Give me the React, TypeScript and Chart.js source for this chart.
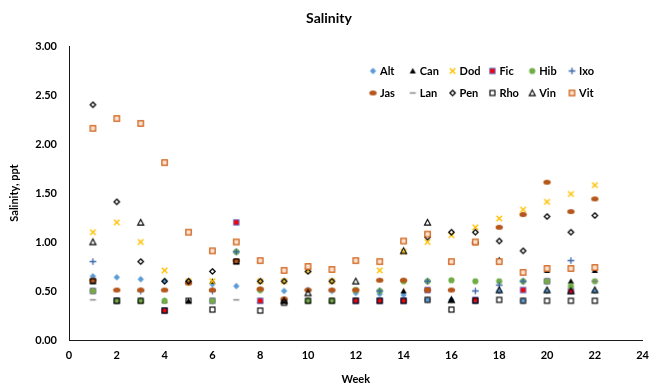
import React, { useEffect, useRef } from 'react';
import { Chart, registerables } from 'chart.js';

Chart.register(...registerables);

const weeks = [1, 2, 3, 4, 5, 6, 7, 8, 9, 10, 11, 12, 13, 14, 15, 16, 17, 18, 19, 20, 21, 22];
const seriesNames = ['Alt', 'Can', 'Dod', 'Fic', 'Hib', 'Ixo', 'Jas', 'Lan', 'Pen', 'Rho', 'Vin', 'Vit'];

const alt = [0.65, 0.64, 0.62, 0.60, 0.60, 0.57, 0.55, 0.51, 0.50, 0.51, 0.50, 0.48, 0.47, 0.46, 0.41, 0.41, 0.40, 0.50, 0.40, 0.50, 0.50, 0.50];
const can = [0.60, 0.40, 0.40, 0.40, 0.40, 0.60, 0.80, 0.40, 0.40, 0.40, 0.40, null, null, 0.50, null, 0.41, 0.40, 0.82, null, 0.71, 0.60, 0.71];
const dod = [1.10, 1.20, 1.00, 0.71, 0.60, 0.60, null, 0.60, 0.60, 0.71, 0.60, null, 0.71, 0.90, 1.00, 1.07, 1.15, 1.24, 1.33, 1.41, 1.49, 1.58];
const fic = [0.50, 0.40, null, 0.30, null, 0.40, 1.20, 0.40, null, null, null, 0.40, 0.40, 0.40, 0.51, null, 0.41, null, 0.51, 0.60, 0.50, null];
const hib = [0.50, 0.40, 0.40, 0.40, null, 0.40, 0.90, 0.51, null, 0.40, 0.40, 0.51, 0.50, 0.60, 0.60, 0.61, 0.60, 0.60, 0.60, 0.60, 0.55, 0.60];
const ixo = [0.80, null, 0.50, null, null, 0.50, 0.90, null, null, null, null, null, 0.50, null, 0.60, null, 0.50, 0.56, 0.60, null, 0.81, null];
const jas = [0.61, 0.51, 0.51, 0.51, 0.58, 0.51, 0.81, 0.52, 0.42, 0.51, 0.51, 0.51, 0.61, 0.61, 0.51, 0.51, 0.99, 1.15, 1.28, 1.61, 1.31, 1.44];
const lan = [0.41, null, null, null, null, null, 0.41, null, null, null, null, null, null, null, null, null, null, null, null, null, null, 0.60];
const pen = [2.40, 1.41, 0.80, 0.60, 0.60, 0.70, null, 0.60, 0.60, 0.70, 0.60, null, null, null, 1.05, 1.10, 1.10, 1.01, 0.91, 1.26, 1.10, 1.27];
const rho = [0.60, 0.40, 0.40, 0.30, 0.40, 0.31, 0.80, 0.30, 0.38, 0.40, 0.40, 0.40, 0.40, 0.40, 0.41, 0.31, 0.40, 0.41, 0.40, 0.40, 0.40, 0.40];
const vin = [1.00, null, 1.20, null, null, null, null, null, 0.40, 0.48, null, 0.60, null, 0.91, 1.20, 0.41, null, 0.51, null, 0.51, 0.50, 0.51];
const vit = [2.16, 2.26, 2.21, 1.81, 1.10, 0.91, 1.00, 0.81, 0.71, 0.75, 0.72, 0.81, 0.80, 1.01, 1.08, 0.80, 1.00, 0.80, 0.69, 0.73, 0.73, 0.74];

const seriesValues = [alt, can, dod, fic, hib, ixo, jas, lan, pen, rho, vin, vit];

const yTicks = [0, 0.5, 1, 1.5, 2, 2.5, 3];
const xTicks = [0, 2, 4, 6, 8, 10, 12, 14, 16, 18, 20, 22, 24];

const FONT = 'Lato, "Open Sans", sans-serif';

function makeMarker(name: string): HTMLCanvasElement {
  const c = document.createElement('canvas');
  c.width = 11;
  c.height = 11;
  const ctx = c.getContext('2d') as CanvasRenderingContext2D;
  ctx.translate(5.5, 5.5);
  ctx.lineJoin = 'miter';
  switch (name) {
    case 'Alt':
      ctx.beginPath();
      ctx.moveTo(0, -3.2); ctx.lineTo(3.2, 0); ctx.lineTo(0, 3.2); ctx.lineTo(-3.2, 0); ctx.closePath();
      ctx.fillStyle = '#5B9BD5';
      ctx.fill();
      break;
    case 'Can':
      ctx.beginPath();
      ctx.moveTo(0, -3); ctx.lineTo(3.1, 2.6); ctx.lineTo(-3.1, 2.6); ctx.closePath();
      ctx.fillStyle = '#000';
      ctx.fill();
      break;
    case 'Dod':
      ctx.beginPath();
      ctx.moveTo(-2.8, -2.8); ctx.lineTo(2.8, 2.8);
      ctx.moveTo(2.8, -2.8); ctx.lineTo(-2.8, 2.8);
      ctx.strokeStyle = '#FFC000';
      ctx.lineWidth = 1.4;
      ctx.stroke();
      break;
    case 'Fic':
      ctx.fillStyle = '#FF0000';
      ctx.fillRect(-2.6, -2.6, 5.2, 5.2);
      ctx.strokeStyle = '#5060C0';
      ctx.lineWidth = 1;
      ctx.strokeRect(-2.6, -2.6, 5.2, 5.2);
      break;
    case 'Hib':
      ctx.beginPath();
      ctx.arc(0, 0, 3.1, 0, Math.PI * 2);
      ctx.fillStyle = '#70AD47';
      ctx.fill();
      break;
    case 'Ixo':
      ctx.beginPath();
      ctx.moveTo(-3.3, 0); ctx.lineTo(3.3, 0);
      ctx.moveTo(0, -3.3); ctx.lineTo(0, 3.3);
      ctx.strokeStyle = '#3A66A8';
      ctx.lineWidth = 1.3;
      ctx.stroke();
      break;
    case 'Jas':
      ctx.beginPath();
      ctx.ellipse(0, 0, 3.7, 2.5, 0, 0, Math.PI * 2);
      ctx.fillStyle = '#B5561A';
      ctx.fill();
      break;
    case 'Lan':
      ctx.fillStyle = '#808080';
      ctx.fillRect(-3, -0.7, 6, 1.4);
      break;
    case 'Pen':
      ctx.beginPath();
      ctx.moveTo(0, -2.7); ctx.lineTo(2.7, 0); ctx.lineTo(0, 2.7); ctx.lineTo(-2.7, 0); ctx.closePath();
      ctx.strokeStyle = '#000';
      ctx.lineWidth = 1.3;
      ctx.stroke();
      break;
    case 'Rho':
      ctx.strokeStyle = '#000';
      ctx.lineWidth = 1.15;
      ctx.strokeRect(-2.5, -2.5, 5, 5);
      break;
    case 'Vin':
      ctx.beginPath();
      ctx.moveTo(0, -3); ctx.lineTo(3, 2.6); ctx.lineTo(-3, 2.6); ctx.closePath();
      ctx.strokeStyle = '#000';
      ctx.lineWidth = 1.15;
      ctx.stroke();
      break;
    case 'Vit':
    default:
      ctx.fillStyle = '#FBE3D3';
      ctx.fillRect(-2.7, -2.7, 5.4, 5.4);
      ctx.strokeStyle = '#D0621A';
      ctx.lineWidth = 1.3;
      ctx.strokeRect(-2.7, -2.7, 5.4, 5.4);
      break;
  }
  return c;
}

export default function App() {
  const canvasRef = useRef<HTMLCanvasElement | null>(null);

  useEffect(() => {
    document.body.style.margin = '0';
    const canvas = canvasRef.current;
    if (!canvas) return;
    const markers = seriesNames.map((n) => makeMarker(n));
    const n = seriesNames.length;

    const datasets = seriesNames.map((name, i) => ({
      label: name,
      data: weeks.map((w, k) => ({ x: w, y: seriesValues[i][k] })).filter((p) => p.y !== null),
      pointStyle: markers[i],
      pointRadius: 4,
      showLine: false,
      order: n - 1 - i,
    }));

    const legendPlugin = {
      id: 'gridLegend',
      afterDraw(chart: any) {
        const ctx = chart.ctx as CanvasRenderingContext2D;
        ctx.save();
        ctx.font = `bold 11px ${FONT}`;
        ctx.fillStyle = '#000';
        ctx.textBaseline = 'middle';
        ctx.textAlign = 'left';
        seriesNames.forEach((name, i) => {
          const col = i % 6;
          const row = Math.floor(i / 6);
          const mx = 373 + col * 39.8;
          const my = 71 + row * 22;
          ctx.drawImage(markers[i], mx - 5.5, my - 5.5);
          ctx.fillText(name, mx + 7, my + 0.5);
        });
        ctx.restore();
      },
    };

    const chart = new Chart(canvas, {
      type: 'scatter',
      data: { datasets },
      options: {
        responsive: false,
        animation: false,
        devicePixelRatio: 1,
        layout: { padding: { left: 0, right: 0, top: 0, bottom: 0 } },
        plugins: {
          legend: { display: false },
          tooltip: { enabled: false },
          title: {
            display: true,
            text: 'Salinity',
            color: '#000',
            font: { family: FONT, size: 14, weight: 'bold' },
            padding: { top: 10, bottom: 19.2 },
          },
        },
        scales: {
          x: {
            type: 'linear',
            min: 0,
            max: 24,
            afterBuildTicks: (scale: any) => {
              scale.ticks = xTicks.map((v) => ({ value: v }));
            },
            afterFit: (scale: any) => {
              scale.height = 48;
            },
            ticks: {
              color: '#000',
              font: { family: FONT, size: 11, weight: 'bold' },
              padding: 9,
              maxRotation: 0,
              autoSkip: false,
            },
            grid: { display: false, drawTicks: false },
            border: { display: true, color: '#1a1a1a', width: 1 },
            title: {
              display: true,
              text: 'Week',
              color: '#000',
              font: { family: FONT, size: 11, weight: 'bold' },
              padding: { top: 4, bottom: 1.5 },
            },
          },
          y: {
            type: 'linear',
            min: 0,
            max: 3,
            afterBuildTicks: (scale: any) => {
              scale.ticks = yTicks.map((v) => ({ value: v }));
            },
            afterFit: (scale: any) => {
              scale.width = 69;
            },
            ticks: {
              color: '#000',
              font: { family: FONT, size: 11, weight: 'bold' },
              padding: 12,
              callback: (v: any) => Number(v).toFixed(2),
            },
            grid: { display: false, drawTicks: false },
            border: { display: true, color: '#1a1a1a', width: 1 },
            title: {
              display: true,
              text: 'Salinity, ppt',
              color: '#000',
              font: { family: FONT, size: 11, weight: 'bold' },
              padding: { top: 8, bottom: 0 },
            },
          },
        },
      },
      plugins: [legendPlugin],
    } as any);

    return () => {
      chart.destroy();
    };
  }, []);

  return (
    <div style={{ width: 658, height: 388, background: '#fff' }}>
      <canvas ref={canvasRef} width={658} height={388} />
    </div>
  );
}
